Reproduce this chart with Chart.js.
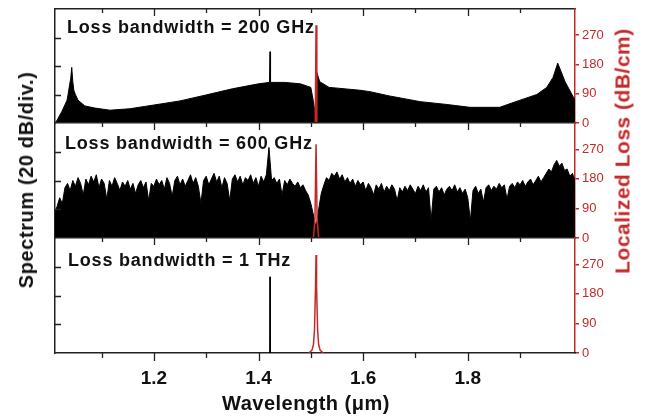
<!DOCTYPE html>
<html>
<head>
<meta charset="utf-8">
<script src="https://cdn.jsdelivr.net/npm/chart.js@4.4.1/dist/chart.umd.min.js"></script>
<style>
  body { margin: 0; background: #fff; }
  #wrap { position: relative; width: 646px; height: 420px; font-family: "Liberation Sans", Arial, sans-serif; }
  canvas { position: absolute; left: 0; top: 0; }
  .txt { position: absolute; font-weight: bold; white-space: nowrap; line-height: 1; color: #111; }
  .panel { font-size: 18px; letter-spacing: 0.8px; }
  .rot { transform: translate(-50%, -50%) rotate(-90deg); }
</style>
</head>
<body>
<div id="wrap">
  <canvas id="c1" width="646" height="420"></canvas>
  <canvas id="c2" width="646" height="420"></canvas>
  <canvas id="c3" width="646" height="420"></canvas>
  <div class="txt panel" style="left:67px; top:18px;">Loss bandwidth = 200 GHz</div>
  <div class="txt panel" style="left:65px; top:134px;">Loss bandwidth = 600 GHz</div>
  <div class="txt panel" style="left:68px; top:251px;">Loss bandwidth = 1 THz</div>
  <div class="txt rot" style="left:26px; top:180px; font-size:20px; letter-spacing:0.6px;">Spectrum (20 dB/div.)</div>
  <div class="txt rot" style="left:622px; top:151px; font-size:21px; letter-spacing:0.5px; color:#c62828;">Localized Loss (dB/cm)</div>
  <div class="txt" style="left:306px; top:403px; font-size:20px; letter-spacing:0.5px; transform: translate(-50%, -50%);">Wavelength (&mu;m)</div>
</div>
<script>
"use strict";

const RED = "#c62828";
const FONT = "'Liberation Sans', Arial, sans-serif";

// ----------------------------
// Data (wavelength in um, spectrum in dB, loss in dB/cm)
// ----------------------------
const spec1X = [1.011, 1.015, 1.024, 1.034, 1.036, 1.039, 1.041, 1.043, 1.045, 1.047, 1.05, 1.055, 1.068, 1.087,
  1.116, 1.154, 1.2, 1.25, 1.3, 1.35, 1.4, 1.421, 1.422, 1.423, 1.45, 1.48, 1.5, 1.505, 1.508, 1.51, 1.511,
  1.517, 1.535, 1.594, 1.613, 1.65, 1.709, 1.76, 1.804, 1.861, 1.9, 1.932, 1.951, 1.963, 1.972, 1.986, 2.005];
const spec1Y = [0, 2, 8, 16, 20, 27, 31, 39, 29, 23, 20, 16, 12, 10.5,
  9, 10, 12.6, 15.5, 19.7, 24, 27.5, 28.5, 50, 28.5, 28.5, 27.5, 25, 15, 7, 5, 36,
  29, 25, 23, 22, 19, 15, 13, 11, 11, 16, 20, 25, 32, 42, 29, 16];

const spec2X = [1.011,
  1.015, 1.02, 1.025, 1.03, 1.035, 1.04, 1.045, 1.05, 1.055, 1.06,
  1.065, 1.07, 1.075, 1.08, 1.085, 1.09, 1.095, 1.1, 1.105, 1.11,
  1.115, 1.12, 1.125, 1.13, 1.135, 1.14, 1.145, 1.15, 1.155, 1.16,
  1.165, 1.17, 1.175, 1.18, 1.185, 1.19, 1.195, 1.2, 1.205, 1.21,
  1.215, 1.22, 1.225, 1.23, 1.235, 1.24, 1.245, 1.25, 1.255, 1.26,
  1.265, 1.27, 1.275, 1.28, 1.285, 1.29, 1.295, 1.3, 1.305, 1.31,
  1.315, 1.32, 1.325, 1.33, 1.335, 1.34, 1.345, 1.35, 1.355, 1.36,
  1.365, 1.37, 1.375, 1.38, 1.385, 1.39, 1.395, 1.4, 1.405, 1.41,
  1.415, 1.42, 1.425, 1.43, 1.435, 1.44, 1.445, 1.45, 1.455, 1.46,
  1.465, 1.47, 1.475, 1.48, 1.485, 1.49, 1.495, 1.5, 1.505, 1.51,
  1.515, 1.52, 1.525, 1.53, 1.535, 1.54, 1.545, 1.55, 1.555, 1.56,
  1.565, 1.57, 1.575, 1.58, 1.585, 1.59, 1.595, 1.6, 1.605, 1.61,
  1.615, 1.62, 1.625, 1.63, 1.635, 1.64, 1.645, 1.65, 1.655, 1.66,
  1.665, 1.67, 1.675, 1.68, 1.685, 1.69, 1.695, 1.7, 1.705, 1.71,
  1.715, 1.72, 1.725, 1.73, 1.735, 1.74, 1.745, 1.75, 1.755, 1.76,
  1.765, 1.77, 1.775, 1.78, 1.785, 1.79, 1.795, 1.8, 1.805, 1.81,
  1.815, 1.82, 1.825, 1.83, 1.835, 1.84, 1.845, 1.85, 1.855, 1.86,
  1.865, 1.87, 1.875, 1.88, 1.885, 1.89, 1.895, 1.9, 1.905, 1.91,
  1.915, 1.92, 1.925, 1.93, 1.935, 1.94, 1.945, 1.95, 1.955, 1.96,
  1.965, 1.97, 1.975, 1.98, 1.985, 1.99, 1.995, 2.0, 2.005];
const spec2Y = [18,
  22, 28, 24, 35, 38, 33, 40, 36, 42, 38,
  30, 41, 37, 43, 39, 44, 35, 41, 38, 27,
  40, 36, 42, 38, 33, 39, 36, 40, 34, 38,
  31, 37, 40, 35, 39, 26, 38, 36, 41, 37,
  40, 34, 42, 38, 29, 40, 43, 37, 41, 36,
  40, 44, 38, 42, 36, 24, 40, 43, 37, 41,
  45, 39, 43, 35, 42, 38, 26, 41, 44, 39,
  43, 37, 42, 40, 44, 38, 42, 36, 43, 39,
  44, 63, 40, 42, 38, 41, 30, 40, 37, 41,
  38, 36, 39, 35, 37, 33, 30, 24, 16, 7,
  20, 31, 37, 42, 40, 45, 43, 46, 41, 44,
  39, 42, 38, 41, 36, 40, 37, 39, 33, 38,
  35, 30, 37, 34, 38, 32, 36, 33, 37, 34,
  26, 35, 32, 36, 33, 37, 34, 31, 36, 33,
  37, 32, 35, 12, 34, 36, 32, 35, 30, 34,
  36, 33, 37, 32, 35, 31, 34, 28, 12, 33,
  36, 31, 34, 25, 35, 37, 33, 36, 34, 38,
  35, 37, 27, 36, 38, 35, 39, 37, 40, 36,
  39, 41, 37, 40, 43, 39, 42, 45, 48, 46,
  51, 54, 50, 52, 47, 48, 43, 45, 40];

const spec3X = [1.4215, 1.422, 1.4225];
const spec3Y = [0, 53, 0];

const loss1X = [1.5085, 1.51, 1.5115];
const loss1Y = [0, 300, 0];
const loss2X = [1.505, 1.508, 1.51, 1.512, 1.515];
const loss2Y = [0, 60, 285, 60, 0];
const loss3X = [1.496, 1.502, 1.505, 1.507, 1.509, 1.51, 1.511, 1.513, 1.515, 1.518, 1.524];
const loss3Y = [0, 8, 25, 70, 200, 298, 200, 70, 25, 8, 0];

// axis ticks
const xTicks = [1.1, 1.2, 1.3, 1.4, 1.5, 1.6, 1.7, 1.8, 1.9];
const xMajor = [1.2, 1.4, 1.6, 1.8];
const specTicks = [20, 40, 60];
const lossTicks = [0, 90, 180, 270];

const X_MIN = 1.011, X_MAX = 2.005;
const BOTTOM_AXIS_H = 60;

function pts(xs, ys) {
  return xs.map((x, i) => ({ x: x, y: ys[i] }));
}

// inward tick marks on left/top, outward on the bottom axis
const tickMarks = {
  id: "tickMarks",
  afterDraw(chart, args, opts) {
    const { ctx, chartArea: a, scales } = chart;
    ctx.save();
    ctx.strokeStyle = "#222";
    ctx.lineWidth = 1.3;
    ctx.beginPath();
    specTicks.forEach(v => {
      const y = Math.round(scales.y.getPixelForValue(v)) + 0.5;
      ctx.moveTo(a.left, y);
      ctx.lineTo(a.left + 6, y);
    });
    xTicks.forEach(v => {
      const x = Math.round(scales.x.getPixelForValue(v)) + 0.5;
      const major = xMajor.includes(v);
      ctx.moveTo(x, a.top);
      ctx.lineTo(x, a.top + (major ? 7 : 4));
      if (opts.bottom) {
        ctx.moveTo(x, a.bottom);
        ctx.lineTo(x, a.bottom + (major ? 8 : 5));
      }
    });
    ctx.stroke();
    ctx.restore();
  }
};

function makePanel(id, top, bottom, datasets, withBottom) {
  const scales = {
    x: {
      type: "linear", position: "top", min: X_MIN, max: X_MAX,
      ticks: { display: false }, grid: { display: false },
      border: { color: "#222", width: 1.5 },
      afterFit: s => { s.height = 0; s.paddingLeft = 0; s.paddingRight = 0; }
    },
    y: {
      position: "left", min: 0, max: 80,
      ticks: { display: false }, grid: { display: false },
      border: { color: "#222", width: 1.5 },
      afterFit: s => { s.width = 0; s.paddingTop = 0; s.paddingBottom = 0; }
    },
    yr: {
      position: "right", min: 0, max: 350,
      afterBuildTicks: s => { s.ticks = lossTicks.map(v => ({ value: v })); },
      ticks: { color: RED, font: { size: 13, family: FONT }, padding: 3 },
      grid: { drawOnChartArea: false, color: RED, tickLength: 4, lineWidth: 1.5 },
      border: { color: RED, width: 1.5 },
      afterFit: s => { s.width = 40; s.paddingTop = 0; s.paddingBottom = 0; }
    }
  };
  if (withBottom) {
    scales.xb = {
      type: "linear", position: "bottom", min: X_MIN, max: X_MAX,
      afterBuildTicks: s => { s.ticks = xMajor.map(v => ({ value: v })); },
      ticks: { color: "#111", font: { size: 19, weight: "bold", family: FONT }, padding: 6 },
      grid: { display: false },
      border: { color: "#222", width: 1.5 },
      afterFit: s => { s.height = BOTTOM_AXIS_H; s.paddingLeft = 0; s.paddingRight = 0; }
    };
  }

  return new Chart(document.getElementById(id), {
    type: "line",
    data: { datasets: datasets },
    options: {
      responsive: false,
      animation: false,
      events: [],
      layout: {
        autoPadding: false,
        padding: { left: 55, right: 31, top: top, bottom: 420 - bottom - (withBottom ? BOTTOM_AXIS_H : 0) }
      },
      plugins: { legend: { display: false }, tooltip: { enabled: false }, tickMarks: { bottom: withBottom } },
      scales: scales
    },
    plugins: [tickMarks]
  });
}

function lossSet(xs, ys) {
  return { data: pts(xs, ys), yAxisID: "yr", borderColor: RED, borderWidth: 1.5, pointRadius: 0, fill: false, tension: 0 };
}

function specSet(xs, ys, filled) {
  return {
    data: pts(xs, ys), yAxisID: "y", borderColor: "#000", backgroundColor: "#000",
    borderWidth: 1, pointRadius: 0, fill: filled ? "origin" : false, tension: 0
  };
}

// ----------------------------
// Init
// ----------------------------
makePanel("c1", 9, 123, [lossSet(loss1X, loss1Y), specSet(spec1X, spec1Y, true)], false);
makePanel("c2", 123, 238, [lossSet(loss2X, loss2Y), specSet(spec2X, spec2Y, true)], false);
makePanel("c3", 238, 353, [lossSet(loss3X, loss3Y), specSet(spec3X, spec3Y, false)], true);
</script>
</body>
</html>
